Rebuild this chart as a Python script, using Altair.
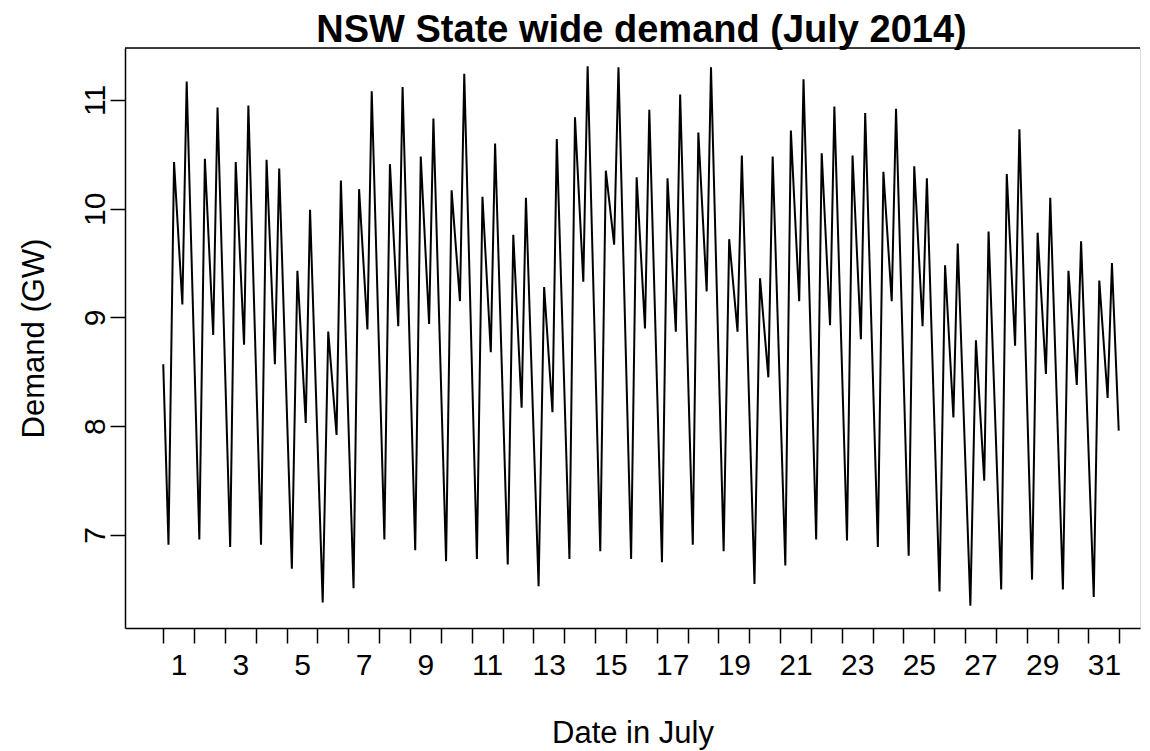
import altair as alt
import pandas as pd

# Day index 0..30 = 1..31 July 2014; values in GW
start_value = 8.57
end_value = 7.96
end_day = 30.98
# per-day key points: night trough, morning peak, midday dip, evening peak
trough = [6.91, 6.96, 6.89, 6.91, 6.69, 6.38, 6.51, 6.96, 6.86, 6.76,
          6.78, 6.73, 6.53, 6.78, 6.85, 6.78, 6.75, 6.91, 6.85, 6.55,
          6.72, 6.96, 6.95, 6.89, 6.81, 6.48, 6.35, 6.50, 6.59, 6.50, 6.43]
morning = [10.43, 10.46, 10.43, 10.45, 9.43, 8.87, 10.18, 10.41, 10.48, 10.17,
           10.11, 9.76, 9.28, 10.84, 10.35, 10.29, 10.28, 10.70, 9.72, 9.36,
           10.72, 10.51, 10.49, 10.34, 10.39, 9.48, 8.79, 10.32, 9.78, 9.43, 9.34]
midday = [9.12, 8.84, 8.75, 8.57, 8.03, 7.92, 8.89, 8.92, 8.94, 9.15,
          8.68, 8.17, 8.13, 9.33, 9.67, 8.90, 8.87, 9.24, 8.87, 8.45,
          9.15, 8.93, 8.80, 9.15, 8.92, 8.08, 7.50, 8.74, 8.48, 8.38, 8.26]
evening = [11.17, 10.93, 10.95, 10.37, 9.99, 10.26, 11.08, 11.12, 10.83, 11.24,
           10.60, 10.10, 10.64, 11.31, 11.30, 10.91, 11.05, 11.30, 10.49, 10.48,
           11.19, 10.94, 10.88, 10.92, 10.28, 9.68, 9.79, 10.73, 10.10, 9.70, 9.50]
# time of day (fraction of a day) of each key point
key_times = [0.17, 0.35, 0.62, 0.76]

rows = [{"day": 0.0, "demand": start_value}]
for d in range(31):
    for t, v in zip(key_times, (trough[d], morning[d], midday[d], evening[d])):
        rows.append({"day": d + t, "demand": v})
rows.append({"day": end_day, "demand": end_value})
df = pd.DataFrame(rows)

y_min, y_max = 6.145, 11.478
x_min, x_max = -1.24, 31.67
FONT = "Liberation Sans"

x_values = [i * 0.5 for i in range(63)]

line = alt.Chart(df).mark_line(color="black", strokeWidth=2.0, clip=True).encode(
    x=alt.X("day:Q", scale=alt.Scale(domain=[x_min, x_max], nice=False, zero=False),
            axis=alt.Axis(values=x_values,
                          labelExpr="(datum.value % 2 == 0.5) ? format(datum.value + 0.5, 'd') : ''",
                          tickOpacity={"condition": {"test": "datum.value % 1 == 0", "value": 1}, "value": 0},
                          tickSize=15, tickWidth=1.5, tickColor="black",
                          domainColor="black", domainWidth=1.5,
                          labelFontSize=30, labelFont=FONT, labelColor="black",
                          labelPadding=7, labelOverlap=False, labelFlush=False,
                          grid=False, title="Date in July", titleFontSize=31,
                          titleFont=FONT, titleFontWeight="normal", titleColor="black",
                          titlePadding=38)),
    y=alt.Y("demand:Q", scale=alt.Scale(domain=[y_min, y_max], nice=False, zero=False),
            axis=alt.Axis(values=[7, 8, 9, 10, 11], format="d", labelAngle=270,
                          tickSize=15, tickWidth=1.5, tickColor="black",
                          domainColor="black", domainWidth=1.5,
                          labelFontSize=30, labelFont=FONT, labelColor="black",
                          labelPadding=0, grid=False, title="Demand (GW)",
                          titleFontSize=31, titleFont=FONT, titleFontWeight="normal",
                          titleColor="black", titlePadding=30)),
)

top_border = alt.Chart(pd.DataFrame({"y": [y_max]})).mark_rule(color="black", strokeWidth=1.5).encode(
    y=alt.Y("y:Q")
)

chart = alt.layer(line, top_border).properties(
    width=1015, height=580,
    autosize=alt.AutoSizeParams(type="none"),
    padding={"left": 117, "top": 40, "right": 2, "bottom": 122},
    title=alt.TitleParams(text="NSW State wide demand (July 2014)", fontSize=38,
                          font=FONT, fontWeight="bold", color="black",
                          anchor="middle", dx=9, offset=-3),
).configure_view(stroke=None).configure(background="white")

chart.save("out.html", embed_options={"renderer": "svg", "actions": False})
